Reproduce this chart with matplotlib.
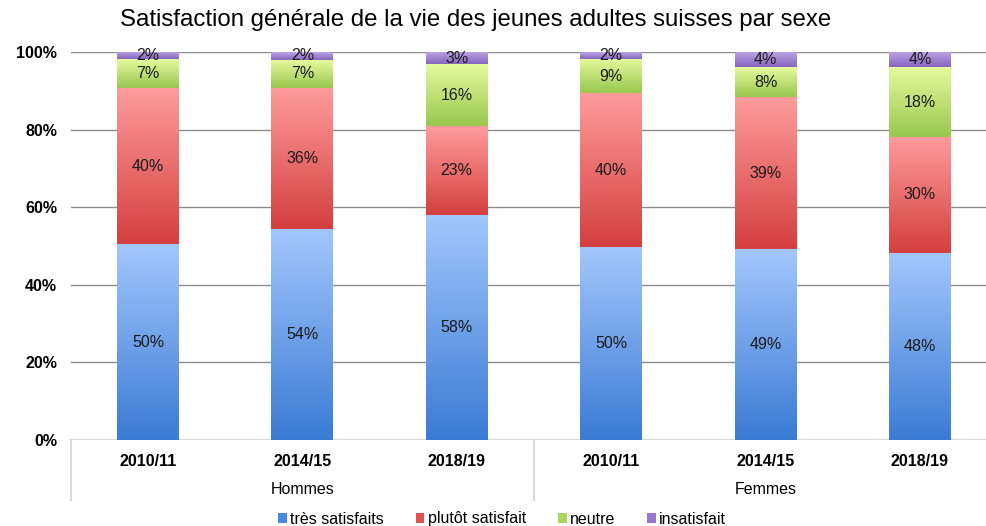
import numpy as np
import matplotlib.pyplot as plt
from matplotlib.colors import LinearSegmentedColormap
from matplotlib.patches import Patch
import matplotlib.transforms as mtransforms

plt.rcParams['font.family'] = ['Liberation Sans', 'DejaVu Sans']

years = ["2010/11", "2014/15", "2018/19", "2010/11", "2014/15", "2018/19"]
groups = ["Hommes", "Femmes"]
series = ["très satisfaits", "plutôt satisfait", "neutre", "insatisfait"]
tres = [50.4, 54.4, 58.0, 49.7, 49.2, 48.2]
plutot = [40.4, 36.4, 22.9, 39.7, 39.2, 29.9]
neutre = [7.3, 7.2, 16.0, 8.8, 7.7, 18.0]
insat = [1.9, 2.0, 3.1, 1.8, 3.9, 3.9]

# (light top, dark bottom, legend colour)
colors = [("#a3c7fd", "#3b7bd4", "#4a8ae0"),
          ("#ff9c9c", "#d43f3f", "#e35252"),
          ("#e6fa9e", "#98c74e", "#a9d862"),
          ("#bca6e6", "#8566bd", "#9575cd")]

fig = plt.figure(figsize=(9.86, 5.26), dpi=100)
ax = fig.add_axes([70.8 / 986, 86 / 526, 926.2 / 986, 388 / 526])

width = 0.4
grad = np.linspace(0, 1, 256).reshape(-1, 1)
bottom = np.zeros(len(years))
for vals, (light, dark, _) in zip([tres, plutot, neutre, insat], colors):
    cmap = LinearSegmentedColormap.from_list("g", [dark, light])
    for i, v in enumerate(vals):
        x0, x1 = i - width / 2, i + width / 2
        ax.imshow(grad, cmap=cmap, origin="lower", aspect="auto",
                  extent=[x0, x1, bottom[i], bottom[i] + v], zorder=2)
        ax.text(i, bottom[i] + v / 2, f"{v:.0f}%", ha="center", va="center",
                fontsize=11.5, color="#1a1a1a", zorder=3)
    bottom += np.array(vals)
ax.set_xlim(-0.5, 5.5)
ax.set_ylim(0, 100)

ax.set_yticks(np.arange(0, 101, 20))
ax.set_yticklabels([f"{t}%" for t in range(0, 101, 20)], fontweight="bold", fontsize=11.5)
ax.tick_params(axis="y", length=0, pad=10)
for t in range(20, 101, 20):
    ax.axhline(t, color="#8c8c8c", lw=1, zorder=1)
ax.axhline(0, color="#d9d9d9", lw=1.5, zorder=1)
for s in ax.spines.values():
    s.set_visible(False)
ax.set_xticks([])

trans = mtransforms.blended_transform_factory(ax.transData, fig.transFigure)
for i, y in enumerate(years):
    ax.text(i, 1 - 461 / 526, y, transform=trans, ha="center", va="center",
            fontsize=11.5, fontweight="bold", clip_on=False)
for g, c in zip(groups, [1, 4]):
    ax.text(c, 1 - 490 / 526, g, transform=trans, ha="center", va="center",
            fontsize=11.5, clip_on=False)
for xs in [-0.5, 2.5]:
    ax.plot([xs, xs], [1 - 440 / 526, 1 - 500 / 526], transform=trans,
            color="#d9d9d9", lw=1.5, clip_on=False)

fig.text(120 / 986, 1 - 20 / 526, "Satisfaction générale de la vie des jeunes adultes suisses par sexe",
         fontsize=17.3, ha="left", va="center")

handles = [Patch(facecolor=c[2], edgecolor="none") for c in colors]
fig.legend(handles, series, loc="center", bbox_to_anchor=(502 / 986, 1 - 519 / 526),
           ncol=4, frameon=False, fontsize=11.5, handlelength=0.55, handleheight=0.55,
           handletextpad=0.2, columnspacing=2.0)

fig.savefig("out.png", dpi=100)
